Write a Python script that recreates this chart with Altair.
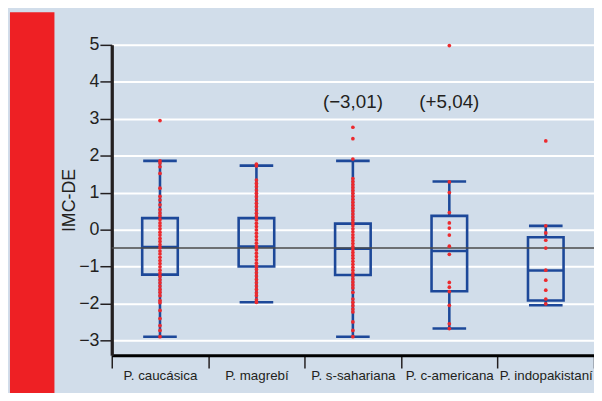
import altair as alt
import pandas as pd

categories = ["P. caucásica", "P. magrebí", "P. s-sahariana", "P. c-americana", "P. indopakistaní"]
whisker_low = [-2.90, -1.97, -2.90, -2.68, -2.05]
q1 = [-1.22, -1.00, -1.23, -1.67, -1.92]
median = [-0.47, -0.46, -0.52, -0.58, -1.11]
q3 = [0.31, 0.31, 0.16, 0.37, -0.21]
whisker_high = [1.86, 1.73, 1.86, 1.30, 0.10]

dots_caucasica = [2.95, 1.86, 1.80, 1.70, 1.52, 1.12, 0.90, 0.80, 0.67, 0.54, 0.45, 0.37, 0.27,
                  0.18, 0.10, 0.02, -0.07, -0.15, -0.24, -0.32, -0.41, -0.49, -0.58, -0.66,
                  -0.75, -0.84, -0.92, -1.01, -1.10, -1.18, -1.27, -1.36, -1.44, -1.53, -1.62,
                  -1.70, -1.79, -1.92, -1.98, -2.19, -2.41, -2.60, -2.73, -2.90]
dots_magrebi = [1.77, 1.72, 1.34, 1.25, 1.16, 1.07, 0.98, 0.89, 0.80, 0.71, 0.62, 0.53, 0.44,
                0.35, 0.26, 0.17, 0.08, -0.01, -0.10, -0.19, -0.28, -0.37, -0.46, -0.55, -0.64,
                -0.73, -0.82, -0.91, -0.99, -1.08, -1.17, -1.26, -1.35, -1.44, -1.53, -1.62,
                -1.71, -1.79, -1.90, -1.97]
dots_ssahariana = [2.77, 2.46, 1.91, 1.38, 1.30, 1.22, 1.14, 1.06, 0.98, 0.90, 0.82, 0.74,
                   0.66, 0.58, 0.50, 0.42, 0.34, 0.26, 0.18, 0.10, 0.02, -0.06, -0.14, -0.22,
                   -0.30, -0.38, -0.46, -0.54, -0.62, -0.70, -0.78, -0.86, -0.94, -1.02, -1.10,
                   -1.18, -1.26, -1.34, -1.42, -1.50, -1.58, -1.70, -1.88, -1.97, -2.06, -2.15,
                   -2.23, -2.50, -2.73, -2.90]
dots_camericana = [4.98, 1.29, 1.00, 0.46, 0.18, 0.04, -0.15, -0.45, -0.67, -1.43, -1.56,
                   -1.68, -2.05, -2.55, -2.68]
dots_indopak = [2.40, 0.10, -0.09, -0.29, -0.50, -1.10, -1.37, -1.64, -1.88, -2.01]

annot_groups = ["P. s-sahariana", "P. c-americana"]
annot_text = ["(\u22123,01)", "(+5,04)"]
annot_y = [3.44, 3.44]
ref_value = -0.5
y_ticks = [-3, -2, -1, 0, 1, 2, 3, 4, 5]
y_domain = [-3.4, 5]

stats = pd.DataFrame({"group": categories, "lo": whisker_low, "q1": q1,
                      "med": median, "q3": q3, "hi": whisker_high})
dot_lists = [dots_caucasica, dots_magrebi, dots_ssahariana, dots_camericana, dots_indopak]
dots = pd.DataFrame([{"group": g, "v": v} for g, lst in zip(categories, dot_lists) for v in lst])
annots = pd.DataFrame({"group": annot_groups, "y": annot_y, "text": annot_text})

W, H = 488, 314
BLUE = "#1d4899"
DOT = "#ec2a2e"
INK = "#231f20"
BASE_FONT = "Liberation Sans, Arial, Helvetica, sans-serif"

x_axis = alt.Axis(title=None, labelAngle=0, domainColor="black", domainWidth=3,
                  tickBand="extent", tickColor=INK, tickSize=13, tickWidth=1.5,
                  labelFont=BASE_FONT, labelFontSize=13.5, labelColor=INK,
                  labelPadding=1, grid=False)
y_axis = alt.Axis(title="IMC-DE", values=y_ticks, format="d", grid=True,
                  gridColor="white", gridWidth=2, domainColor=INK, domainWidth=3.3,
                  tickColor=INK, tickSize=12, tickWidth=1.5, labelFont=BASE_FONT,
                  labelFontSize=18, labelColor=INK, labelPadding=1,
                  titleFont=BASE_FONT, titleFontSize=18, titleFontWeight="normal",
                  titleColor=INK, titlePadding=0)
x_scale = alt.Scale(domain=categories, paddingInner=0, paddingOuter=0)
y_scale = alt.Scale(domain=y_domain, nice=False, zero=False)


def X():
    return alt.X("group:N", sort=categories, scale=x_scale, axis=x_axis)


def Y(field):
    return alt.Y(f"{field}:Q", scale=y_scale, axis=y_axis)


red_band = alt.Chart(alt.Data(values=[{"a": 1}])).mark_rect(color="#ee2024").encode(
    x=alt.value(-103), x2=alt.value(-58), y=alt.value(-33), y2=alt.value(H + 40))

base = alt.Chart(stats)
whisk_low = base.mark_rule(color=BLUE, strokeWidth=2.6).encode(x=X(), y=Y("lo"), y2="q1:Q")
whisk_high = base.mark_rule(color=BLUE, strokeWidth=2.6).encode(x=X(), y=Y("q3"), y2="hi:Q")
box = base.mark_bar(size=36, fillOpacity=0, stroke=BLUE, strokeWidth=2.6).encode(
    x=X(), y=Y("q3"), y2="q1:Q")
med = base.mark_tick(size=36, thickness=2.6, color=BLUE, opacity=1).encode(x=X(), y=Y("med"))
cap_lo = base.mark_tick(size=34, thickness=2.6, color=BLUE, opacity=1).encode(x=X(), y=Y("lo"))
cap_hi = base.mark_tick(size=34, thickness=2.6, color=BLUE, opacity=1).encode(x=X(), y=Y("hi"))

ref = alt.Chart(alt.Data(values=[{"a": 1}])).mark_rule(color="#4a4a4a", strokeWidth=1.5).encode(
    y=alt.datum(ref_value, scale=y_scale, axis=y_axis))

pts = alt.Chart(dots).mark_circle(size=14, color=DOT, opacity=1).encode(x=X(), y=Y("v"))

txt = alt.Chart(annots).mark_text(font=BASE_FONT, fontSize=19, color=INK).encode(
    x=X(), y=Y("y"), text="text:N")

chart = alt.layer(red_band, whisk_low, whisk_high, box, med, cap_lo, cap_hi, ref, pts, txt).properties(
    width=W, height=H,
    autosize=alt.AutoSizeParams(type="none"),
    padding={"left": 105, "top": 35, "right": 0, "bottom": 36},
    background="#d1ddea",
).configure_view(strokeWidth=0)

chart.save("out.html", embed_options={"renderer": "svg", "actions": False})
